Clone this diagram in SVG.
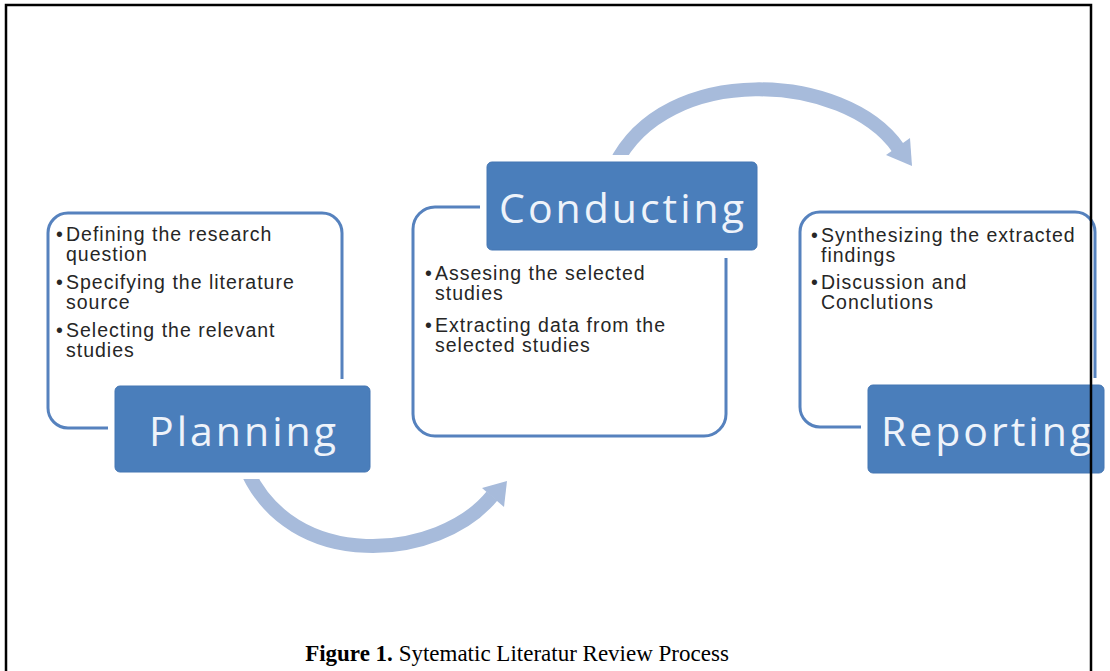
<svg xmlns="http://www.w3.org/2000/svg" width="1110" height="671" viewBox="0 0 1110 671">
  <defs>
    <style>
      .panel { fill: #ffffff; stroke: #5682be; stroke-width: 3; }
      .halo { fill: #ffffff; }
      .title-box { fill: #4a7ebb; stroke: #4576b3; stroke-width: 1; }
      .title { font-family: "Open Sans", "Liberation Sans", sans-serif; font-size: 41px; fill: #eef3fa; letter-spacing: 3px; text-anchor: middle; }
      .item { font-family: "Liberation Sans", Arial, sans-serif; font-size: 19.5px; fill: #262626; letter-spacing: 1px; }
      .flow { fill: none; stroke: #a7bbdb; stroke-width: 14; stroke-linecap: butt; }
      .head { fill: #a7bbdb; }
      .caption { font-family: "Liberation Serif", "Times New Roman", serif; font-size: 23px; fill: #000000; text-anchor: middle; }
    </style>
  </defs>

  <rect width="1110" height="671" fill="#ffffff"/>

  <!-- curved flow arrows between the phases -->
  <g id="connectors">
    <path class="flow" d="M245,466 C290,575 440,560 492,496"/>
    <polygon class="head" points="507,481 504,507 482,488"/>
    <path class="flow" d="M615,165 C665,62 845,72 898,148"/>
    <polygon class="head" points="912,166 910,138 886,155"/>
  </g>

  <!-- Planning phase -->
  <g id="planning">
    <rect class="panel" x="48" y="213" width="294" height="215" rx="20"/>
    <text class="item">
      <tspan x="56" y="241">•</tspan><tspan x="66" y="241">Defining the research</tspan>
      <tspan x="66" y="261">question</tspan>
      <tspan x="56" y="289">•</tspan><tspan x="66" y="289">Specifying the literature</tspan>
      <tspan x="66" y="309">source</tspan>
      <tspan x="56" y="337">•</tspan><tspan x="66" y="337">Selecting the relevant</tspan>
      <tspan x="66" y="357">studies</tspan>
    </text>
    <rect class="halo" x="108" y="379" width="269" height="100" rx="9"/>
    <rect class="title-box" x="115" y="386" width="255" height="86" rx="5"/>
    <text class="title" x="244" y="446">Planning</text>
  </g>

  <!-- Conducting phase -->
  <g id="conducting">
    <rect class="panel" x="413" y="207" width="313" height="229" rx="22"/>
    <rect class="halo" x="480" y="155" width="284" height="103" rx="9"/>
    <rect class="title-box" x="487" y="162" width="270" height="88" rx="5"/>
    <text class="title" x="623" y="223">Conducting</text>
    <text class="item">
      <tspan x="425" y="280">•</tspan><tspan x="435" y="280">Assesing the selected</tspan>
      <tspan x="435" y="300">studies</tspan>
      <tspan x="425" y="332">•</tspan><tspan x="435" y="332">Extracting data from the</tspan>
      <tspan x="435" y="352">selected studies</tspan>
    </text>
  </g>

  <!-- Reporting phase -->
  <g id="reporting">
    <rect class="panel" x="800" y="212" width="295" height="215" rx="20"/>
    <text class="item">
      <tspan x="811" y="242">•</tspan><tspan x="821" y="242">Synthesizing the extracted</tspan>
      <tspan x="821" y="262">findings</tspan>
      <tspan x="811" y="289">•</tspan><tspan x="821" y="289">Discussion and</tspan>
      <tspan x="821" y="309">Conclutions</tspan>
    </text>
    <rect class="halo" x="861" y="378" width="249" height="102" rx="9"/>
    <rect class="title-box" x="868" y="385" width="236" height="88" rx="5"/>
    <text class="title" x="988" y="446">Reporting</text>
  </g>

  <!-- figure caption -->
  <text class="caption" x="517" y="661"><tspan font-weight="bold">Figure 1.</tspan> Sytematic Literatur Review Process</text>

  <!-- page frame -->
  <rect x="6" y="5" width="1085" height="700" fill="none" stroke="#000000" stroke-width="2.5"/>
</svg>
